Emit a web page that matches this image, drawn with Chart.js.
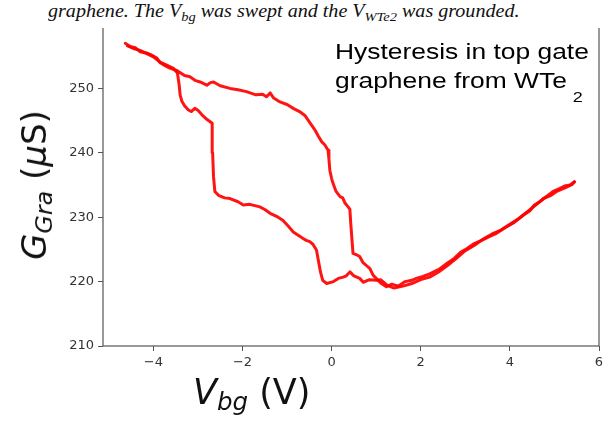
<!DOCTYPE html>
<html>
<head>
<meta charset="utf-8">
<script src="https://cdn.jsdelivr.net/npm/chart.js@4"></script>
<style>
  html, body { margin: 0; padding: 0; background: #fff; }
  .wrap { position: relative; width: 615px; height: 423px; overflow: hidden; }
  .caption {
    position: absolute; left: 0; top: 0; width: 615px; height: 28px; background: #fff;
    font-family: "Liberation Serif", serif; font-style: italic; font-size: 18px; line-height: 20px; color: #111;
    white-space: nowrap;
  }
  .caption span.t { position: absolute; left: 48px; top: 1px; transform: scaleX(1.115); transform-origin: 0 0; }
  .caption sub { font-size: 0.72em; vertical-align: -0.3em; line-height: 0; }
  .note {
    position: absolute; left: 335px; top: 37px; font-family: "Liberation Sans", Arial, sans-serif;
    font-size: 22px; line-height: 29px; color: #000; white-space: nowrap;
    transform: scaleX(1.2); transform-origin: 0 0;
  }
  .note .sub2 { font-size: 15px; position: relative; top: 14px; margin-left: 5px; }
  .ytitle {
    position: absolute; left: 34px; top: 185px; transform: translate(-50%, -50%) rotate(-90deg);
    font-family: "DejaVu Sans", sans-serif; font-size: 34px; line-height: 34px; white-space: nowrap; color: #111;
  }
  .xtitle {
    position: absolute; left: 193px; top: 375px; font-family: "DejaVu Sans", sans-serif;
    font-size: 35px; line-height: 34px; white-space: nowrap; color: #111;
  }
  .ytitle sub, .xtitle sub { font-size: 0.7em; vertical-align: -0.25em; line-height: 0; }
  .m { font-style: italic; }
</style>
</head>
<body>
<div class="wrap">
  <canvas id="hyst" width="615" height="423"></canvas>
  <div class="caption"><span class="t">graphene. The V<sub>bg</sub> was swept and the V<sub>WTe2</sub> was grounded.</span></div>
  <div class="note">Hysteresis in top gate<br>graphene from WTe<span class="sub2">2</span></div>
  <div class="ytitle"><span class="m">G<sub>Gra</sub></span> (<span class="m">μ</span>S)</div>
  <div class="xtitle"><span class="m">V<sub>bg</sub></span> (V)</div>
</div>
<script>
// forward sweep: -4.6 V -> +5.45 V
const forwardV = [-4.63, -4.52, -4.40, -4.30, -4.15, -4.05, -3.92, -3.85, -3.78, -3.65, -3.48,
  -3.30, -3.18, -3.05, -2.95, -2.80, -2.72, -2.65, -2.50, -2.28, -2.10, -1.91, -1.70, -1.55, -1.46,
  -1.38, -1.30, -1.16, -1.00, -0.86, -0.72, -0.60, -0.52, -0.45, -0.37, -0.30, -0.22, -0.15, -0.08,
  -0.06, -0.04, 0.00, 0.03, 0.10, 0.19, 0.25, 0.30, 0.37, 0.41, 0.43, 0.48, 0.55, 0.63, 0.70, 0.78,
  0.86, 0.93, 1.00, 1.10, 1.23, 1.35, 1.50, 1.65, 1.80, 1.90, 2.05, 2.20, 2.43, 2.60, 2.75, 2.90,
  3.03, 3.20, 3.40, 3.55, 3.70, 3.90, 4.10, 4.30, 4.45, 4.55, 4.67, 4.80, 4.97, 5.10, 5.25, 5.35, 5.45];
const forwardG = [257.0, 256.5, 256.3, 255.7, 255.5, 255.2, 254.7, 254.0, 253.7, 253.2, 252.8,
  252.0, 251.8, 251.2, 251.0, 250.5, 250.9, 251.0, 250.4, 250.0, 249.8, 249.5, 249.0, 249.1, 248.7,
  249.3, 248.5, 247.9, 247.5, 246.9, 246.4, 245.8, 245.0, 244.3, 243.5, 242.6, 241.7, 241.2, 240.4,
  239.0, 237.3, 236.0, 235.3, 234.0, 233.2, 233.0, 232.2, 231.6, 231.2, 229.0, 224.4, 224.2, 223.9, 223.0, 222.5,
  222.0, 221.0, 220.5, 219.8, 219.2, 219.6, 219.3, 220.0, 220.2, 220.5, 220.8, 221.2, 222.0, 222.9, 223.6, 224.6,
  225.1, 225.9, 226.5, 227.0, 227.5, 228.4, 229.2, 230.3, 231.0, 231.9, 232.4, 233.1, 234.0, 234.4, 234.9, 235.0, 235.5];

// backward sweep: +5.45 V -> -4.6 V
const backwardV = [5.45, 5.40, 5.25, 5.05, 4.90, 4.75, 4.60, 4.40, 4.20, 4.00, 3.80, 3.60, 3.40, 3.20,
  3.00, 2.80, 2.60, 2.40, 2.20, 2.00, 1.80, 1.60, 1.40, 1.25, 1.10, 1.00, 0.85, 0.71, 0.63, 0.50,
  0.41, 0.33, 0.26, 0.15, 0.04, -0.11, -0.20, -0.25, -0.29, -0.34, -0.42, -0.49, -0.57, -0.64, -0.75,
  -0.86, -0.97, -1.09, -1.20, -1.38, -1.50, -1.61, -1.72, -1.85, -1.98, -2.10, -2.28, -2.40, -2.54,
  -2.62, -2.65, -2.67, -2.68, -2.80, -2.91, -3.00, -3.07, -3.15, -3.22, -3.30, -3.36, -3.40, -3.42,
  -3.46, -3.55, -3.70, -3.85, -4.00, -4.15, -4.30, -4.45, -4.58];
const backwardG = [235.5, 235.1, 234.6, 234.0, 233.3, 232.9, 232.0, 230.9, 229.8, 228.9, 228.0, 227.4, 226.6, 225.6,
  224.8, 223.6, 222.5, 221.5, 220.7, 220.3, 219.7, 219.3, 219.0, 219.4, 220.3, 220.2, 220.3, 219.9, 220.5, 220.9,
  221.5, 220.9, 220.7, 220.5, 220.0, 219.7, 220.2, 221.5, 223.0, 224.9, 225.8, 226.2, 226.4, 226.7, 227.2,
  227.7, 228.6, 229.5, 230.0, 230.6, 231.2, 231.6, 231.8, 232.0, 231.9, 232.4, 232.9, 233.0, 233.4,
  234.0, 236.3, 240.0, 244.6, 245.2, 245.9, 246.6, 246.9, 246.4, 246.7, 247.3, 248.0, 249.0, 250.5,
  252.4, 253.1, 253.6, 254.1, 254.9, 255.4, 255.9, 256.2, 256.6];

const xTicks = [-4, -2, 0, 2, 4, 6];
const yTicks = [210, 220, 230, 240, 250, 260];

const toPoints = (xs, ys) => xs.map((x, i) => ({ x: x, y: ys[i] }));

// plot frame like matplotlib spines
const frame = {
  id: "frame",
  afterDraw(chart) {
    const a = chart.chartArea;
    const ctx = chart.ctx;
    ctx.save();
    ctx.strokeStyle = "#555";
    ctx.lineWidth = 1.2;
    ctx.strokeRect(a.left, a.top, a.right - a.left, a.bottom - a.top);
    ctx.restore();
  }
};

const lineStyle = {
  borderColor: "rgba(255, 0, 0, 0.92)",
  borderWidth: 3,
  pointRadius: 0,
  showLine: true,
  fill: false,
  tension: 0,
  borderJoinStyle: "round",
  borderCapStyle: "round"
};

new Chart(document.getElementById("hyst"), {
  type: "scatter",
  data: {
    datasets: [
      Object.assign({ label: "forward", data: toPoints(forwardV, forwardG) }, lineStyle),
      Object.assign({ label: "backward", data: toPoints(backwardV, backwardG) }, lineStyle)
    ]
  },
  options: {
    responsive: false,
    animation: false,
    devicePixelRatio: 1,
    layout: { padding: { top: 24, right: 16, left: 0, bottom: 0 } },
    plugins: { legend: { display: false }, tooltip: { enabled: false } },
    scales: {
      x: {
        type: "linear",
        min: -5.13,
        max: 6,
        afterBuildTicks: scale => { scale.ticks = xTicks.map(v => ({ value: v })); },
        afterFit: scale => { scale.height = 77; },
        border: { display: false },
        grid: { display: true, drawOnChartArea: false, drawTicks: true, tickLength: 5, tickColor: "#555", tickWidth: 1 },
        ticks: {
          padding: 4,
          color: "#333",
          font: { family: "DejaVu Sans", size: 13 },
          callback: v => String(v).replace("-", "\u2212")
        }
      },
      y: {
        type: "linear",
        min: 210,
        max: 260,
        afterBuildTicks: scale => { scale.ticks = yTicks.map(v => ({ value: v })); },
        afterFit: scale => { scale.width = 103; },
        border: { display: false },
        grid: { display: true, drawOnChartArea: false, drawTicks: true, tickLength: 5, tickColor: "#555", tickWidth: 1 },
        ticks: {
          padding: 4,
          color: "#333",
          font: { family: "DejaVu Sans", size: 13 }
        }
      }
    }
  },
  plugins: [frame]
});
</script>
</body>
</html>
